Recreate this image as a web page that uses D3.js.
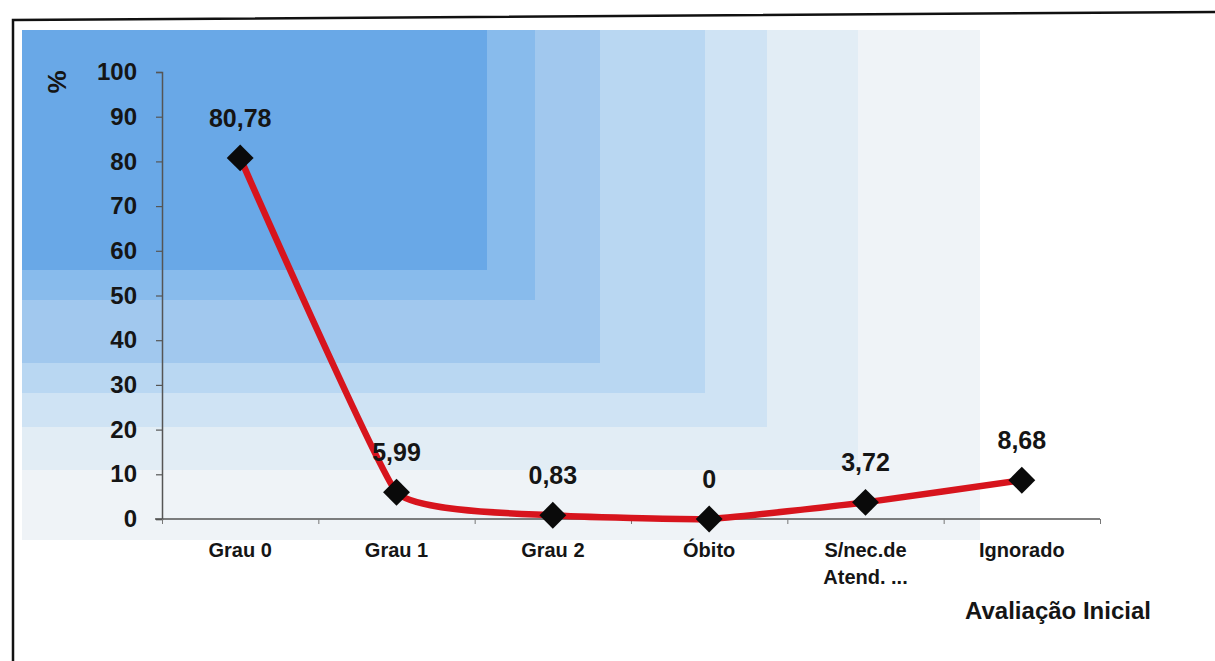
<!DOCTYPE html>
<html>
<head>
<meta charset="utf-8">
<script src="https://cdn.jsdelivr.net/npm/d3@7"></script>
<style>
  body { margin: 0; background: #fff; }
  svg { display: block; }
  text { font-family: "Liberation Sans", Arial, sans-serif; font-weight: bold; fill: #151515; }
</style>
</head>
<body>
<svg id="chart" width="1215" height="661"></svg>
<script>
// Avaliação inicial (%)
const categories = ["Grau 0", "Grau 1", "Grau 2", "Óbito", "S/nec.de\nAtend. ...", "Ignorado"];
const percentages = [80.78, 5.99, 0.83, 0, 3.72, 8.68];
const yTickValues = [0, 10, 20, 30, 40, 50, 60, 70, 80, 90, 100];
const yAxisLabel = "%";
const xAxisTitle = "Avaliação Inicial";

const svg = d3.select("#chart");

// Plot geometry
const plot = { left: 162, right: 1100, top: 72, bottom: 519 };

// Stepped blue backdrop fading toward the lower right
const bgOrigin = { x: 22, y: 30 };
const bgBands = [
  { x: 980, y: 540, color: "#eff3f7" },
  { x: 858, y: 470, color: "#e2edf5" },
  { x: 767, y: 427, color: "#cfe3f4" },
  { x: 705, y: 393, color: "#b9d7f2" },
  { x: 600, y: 363, color: "#a1c8ee" },
  { x: 535, y: 300, color: "#88bbec" },
  { x: 487, y: 270, color: "#69a8e7" }
];
svg.append("g").selectAll("rect")
  .data(bgBands)
  .join("rect")
  .attr("x", bgOrigin.x)
  .attr("y", bgOrigin.y)
  .attr("width", d => d.x - bgOrigin.x)
  .attr("height", d => d.y - bgOrigin.y)
  .attr("fill", d => d.color);

// Outer frame (top and left edges)
svg.append("path")
  .attr("d", "M13,661 L13,20 L1215,12")
  .attr("fill", "none")
  .attr("stroke", "#111")
  .attr("stroke-width", 2.5);

// Scales
const x = d3.scaleBand().domain(categories).range([plot.left, plot.right]).padding(0);
const xEdge = d3.scaleLinear().domain([0, categories.length]).range([plot.left, plot.right]);
const y = d3.scaleLinear().domain([0, 100]).range([plot.bottom, plot.top]);

// Y axis
const yAxis = svg.append("g")
  .attr("transform", `translate(${plot.left},0)`)
  .call(d3.axisLeft(y).tickValues(yTickValues).tickSize(6).tickPadding(19));
yAxis.select(".domain").attr("stroke", "#555").attr("stroke-width", 1.5);
yAxis.selectAll(".tick line").attr("stroke", "#555").attr("stroke-width", 1.2);
yAxis.selectAll(".tick text")
  .style("font-size", "24px")
  .style("font-family", "'Liberation Sans', Arial, sans-serif")
  .style("font-weight", "bold")
  .attr("fill", "#151515");

// X axis line with tick marks at category boundaries
const xEdges = d3.range(categories.length + 1);
const xAxisEdges = svg.append("g")
  .attr("transform", `translate(0,${plot.bottom})`)
  .call(d3.axisBottom(xEdge).tickValues(xEdges).tickSize(5).tickFormat(""));
xAxisEdges.select(".domain").attr("d", `M${plot.left - 7},0H${plot.right}`)
  .attr("stroke", "#555").attr("stroke-width", 1.5);
xAxisEdges.selectAll(".tick line").attr("stroke", "#777").attr("stroke-width", 1);

// Category labels (two lines where the label contains a break)
const xAxisLabels = svg.append("g")
  .attr("transform", `translate(0,${plot.bottom})`)
  .call(d3.axisBottom(x).tickSize(0).tickPadding(24));
xAxisLabels.select(".domain").remove();
xAxisLabels.selectAll(".tick text")
  .style("font-size", "20px")
  .style("font-family", "'Liberation Sans', Arial, sans-serif")
  .style("font-weight", "bold")
  .attr("fill", "#151515")
  .each(function(d) {
    const lines = d.split("\n");
    const t = d3.select(this);
    if (lines.length > 1) {
      t.text(null);
      lines.forEach((line, i) => {
        t.append("tspan")
          .attr("x", 0)
          .attr("dy", i === 0 ? "0.71em" : "1.35em")
          .text(line);
      });
      t.attr("dy", null);
    }
  });

// Y axis label
svg.append("text")
  .attr("transform", "translate(66,82) rotate(-90)")
  .attr("text-anchor", "middle")
  .style("font-size", "26px")
  .text(yAxisLabel);

// X axis title
svg.append("text")
  .attr("x", 1058)
  .attr("y", 619)
  .attr("text-anchor", "middle")
  .style("font-size", "24px")
  .text(xAxisTitle);

// Lightly smoothed line
const points = categories.map((c, i) => ({ c, v: percentages[i] }));
const line = d3.line()
  .x(d => x(d.c) + x.bandwidth() / 2)
  .y(d => y(d.v))
  .curve(d3.curveCardinal.tension(0.65));

svg.append("path")
  .datum(points)
  .attr("d", line)
  .attr("fill", "none")
  .attr("stroke", "#d7141d")
  .attr("stroke-width", 6.5)
  .attr("stroke-linejoin", "round")
  .attr("stroke-linecap", "round");

// Diamond markers
const diamond = d3.symbol().type(d3.symbolSquare).size(19 * 19);
svg.append("g").selectAll("path")
  .data(points)
  .join("path")
  .attr("d", diamond)
  .attr("transform", d => `translate(${x(d.c) + x.bandwidth() / 2},${y(d.v)}) rotate(45)`)
  .attr("fill", "#0a0a0a");

// Value labels
const fmt = v => String(v).replace(".", ",");
svg.append("g").selectAll("text")
  .data(points)
  .join("text")
  .attr("x", d => x(d.c) + x.bandwidth() / 2)
  .attr("y", d => y(d.v) - 31)
  .attr("text-anchor", "middle")
  .style("font-size", "25px")
  .text(d => fmt(d.v));
</script>
</body>
</html>
